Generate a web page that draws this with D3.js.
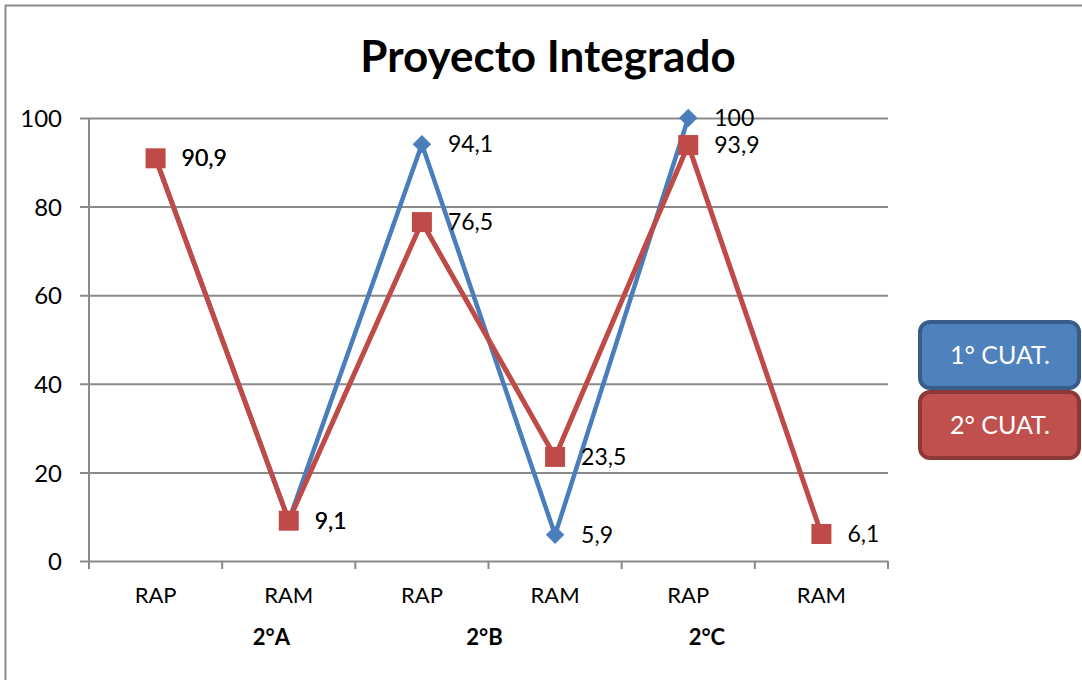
<!DOCTYPE html>
<html>
<head>
<meta charset="utf-8">
<script src="https://cdn.jsdelivr.net/npm/d3@7"></script>
<style>
  html, body { margin: 0; padding: 0; background: #fff; }
  svg { display: block; font-family: Lato, "Open Sans", sans-serif; }
</style>
</head>
<body>
<svg id="chart" width="1082" height="680"></svg>
<script>
// Categories along the x axis and the class groups below them
const categories = ["RAP", "RAM", "RAP", "RAM", "RAP", "RAM"];
const groups = ["2°A", "2°B", "2°C"];
const yTicks = [0, 20, 40, 60, 80, 100];

// Percentages per term (null = no value)
const cuat1 = [90.9, 9.1, 94.1, 5.9, 100, null];
const cuat2 = [90.9, 9.1, 76.5, 23.5, 93.9, 6.1];
const seriesNames = ["1° CUAT.", "2° CUAT."];

const svg = d3.select("#chart");
const W = 1082, H = 680;

// outer chart frame
svg.append("rect")
  .attr("x", 5.5).attr("y", 5.5)
  .attr("width", W + 10).attr("height", H + 10)
  .attr("fill", "none").attr("stroke", "#8c8c8c").attr("stroke-width", 2);

const plot = { left: 89, right: 888, top: 118, bottom: 561 };

const x = d3.scaleBand()
  .domain(d3.range(categories.length))
  .range([plot.left, plot.right])
  .paddingInner(0).paddingOuter(0);

const y = d3.scaleLinear().domain([0, 100]).range([plot.bottom, plot.top]);

// title
svg.append("text")
  .attr("x", 548).attr("y", 72)
  .attr("text-anchor", "middle")
  .attr("font-size", 44).attr("font-weight", "bold")
  .attr("fill", "#000")
  .text("Proyecto Integrado");

// horizontal gridlines with y axis labels
const yAxis = d3.axisLeft(y)
  .tickValues(yTicks)
  .tickSize(plot.right - plot.left + 9)
  .tickFormat(d3.format("d"));

const gy = svg.append("g")
  .attr("transform", `translate(${plot.right},0)`)
  .call(yAxis);
gy.select(".domain").remove();
gy.selectAll(".tick line").attr("stroke", "#8a8a8a").attr("stroke-width", 2);
gy.selectAll(".tick text")
  .attr("x", -(plot.right - plot.left) - 27)
  .attr("dy", "0.36em")
  .attr("font-size", 24).attr("fill", "#000")
  .attr("font-family", "Lato, sans-serif");

// vertical axis line
svg.append("line")
  .attr("x1", plot.left).attr("x2", plot.left)
  .attr("y1", plot.top).attr("y2", plot.bottom)
  .attr("stroke", "#8a8a8a").attr("stroke-width", 2);

// x axis tick marks at category boundaries
const bounds = d3.range(categories.length + 1).map(i =>
  i < categories.length ? x(i) : x(categories.length - 1) + x.bandwidth());
svg.append("g").selectAll("line")
  .data(bounds).join("line")
  .attr("x1", d => d).attr("x2", d => d)
  .attr("y1", plot.bottom).attr("y2", plot.bottom + 8)
  .attr("stroke", "#8a8a8a").attr("stroke-width", 2);

svg.append("g").selectAll("text")
  .data(categories).join("text")
  .attr("x", (d, i) => x(i) + x.bandwidth() / 2)
  .attr("y", 603)
  .attr("text-anchor", "middle")
  .attr("font-size", 22).attr("fill", "#000")
  .text(d => d);

// group labels on the second row, anchored in band units from the left edge
const groupAnchor = [1.37, 2.97, 4.64];
svg.append("g").selectAll("text")
  .data(groups).join("text")
  .attr("x", (d, i) => x(0) + groupAnchor[i] * x.bandwidth())
  .attr("y", 645)
  .attr("text-anchor", "middle")
  .attr("font-size", 22).attr("font-weight", "bold").attr("fill", "#000")
  .text(d => d);

const cx = i => x(i) + x.bandwidth() / 2;
const line = d3.line()
  .defined(d => d.v != null)
  .x(d => cx(d.i))
  .y(d => y(d.v));

const toPts = arr => arr.map((v, i) => ({ v, i }));

const blue = "#4a7ebb", red = "#be4b48";

// 1° CUAT. line + diamonds
svg.append("path")
  .datum(toPts(cuat1))
  .attr("d", line)
  .attr("fill", "none").attr("stroke", blue).attr("stroke-width", 4.5)
  .attr("stroke-linejoin", "round");

svg.append("g").selectAll("path")
  .data(toPts(cuat1).filter(d => d.v != null)).join("path")
  .attr("d", d3.symbol().type(d3.symbolSquare).size(170))
  .attr("transform", d => `translate(${cx(d.i)},${y(d.v)}) rotate(45)`)
  .attr("fill", blue);

// 2° CUAT. line + squares
svg.append("path")
  .datum(toPts(cuat2))
  .attr("d", line)
  .attr("fill", "none").attr("stroke", red).attr("stroke-width", 5)
  .attr("stroke-linejoin", "round");

svg.append("g").selectAll("rect")
  .data(toPts(cuat2).filter(d => d.v != null)).join("rect")
  .attr("x", d => cx(d.i) - 10).attr("y", d => y(d.v) - 10)
  .attr("width", 20).attr("height", 20)
  .attr("fill", red);

// value labels
const fmt = v => String(v).replace(".", ",");
[cuat1, cuat2].forEach(arr => {
  svg.append("g").selectAll("text")
    .data(toPts(arr).filter(d => d.v != null)).join("text")
    .attr("x", d => cx(d.i) + 26)
    .attr("y", d => y(d.v) + 8)
    .attr("font-size", 23).attr("fill", "#000")
    .text(d => fmt(d.v));
});

// legend boxes
const legend = svg.append("g");
const legendFill = ["#4f81bd", "#c0504d"];
const legendStroke = ["#385d8a", "#8c3836"];
seriesNames.forEach((name, i) => {
  const g = legend.append("g").attr("transform", `translate(920,${322 + i * 70})`);
  g.append("rect")
    .attr("x", 0).attr("y", 0).attr("width", 159).attr("height", 66)
    .attr("rx", 10).attr("ry", 10)
    .attr("fill", legendFill[i])
    .attr("stroke", legendStroke[i]).attr("stroke-width", 4);
  g.append("text")
    .attr("x", 80).attr("y", 42)
    .attr("text-anchor", "middle")
    .attr("font-size", 25).attr("fill", "#fff")
    .text(name);
});
</script>
</body>
</html>
